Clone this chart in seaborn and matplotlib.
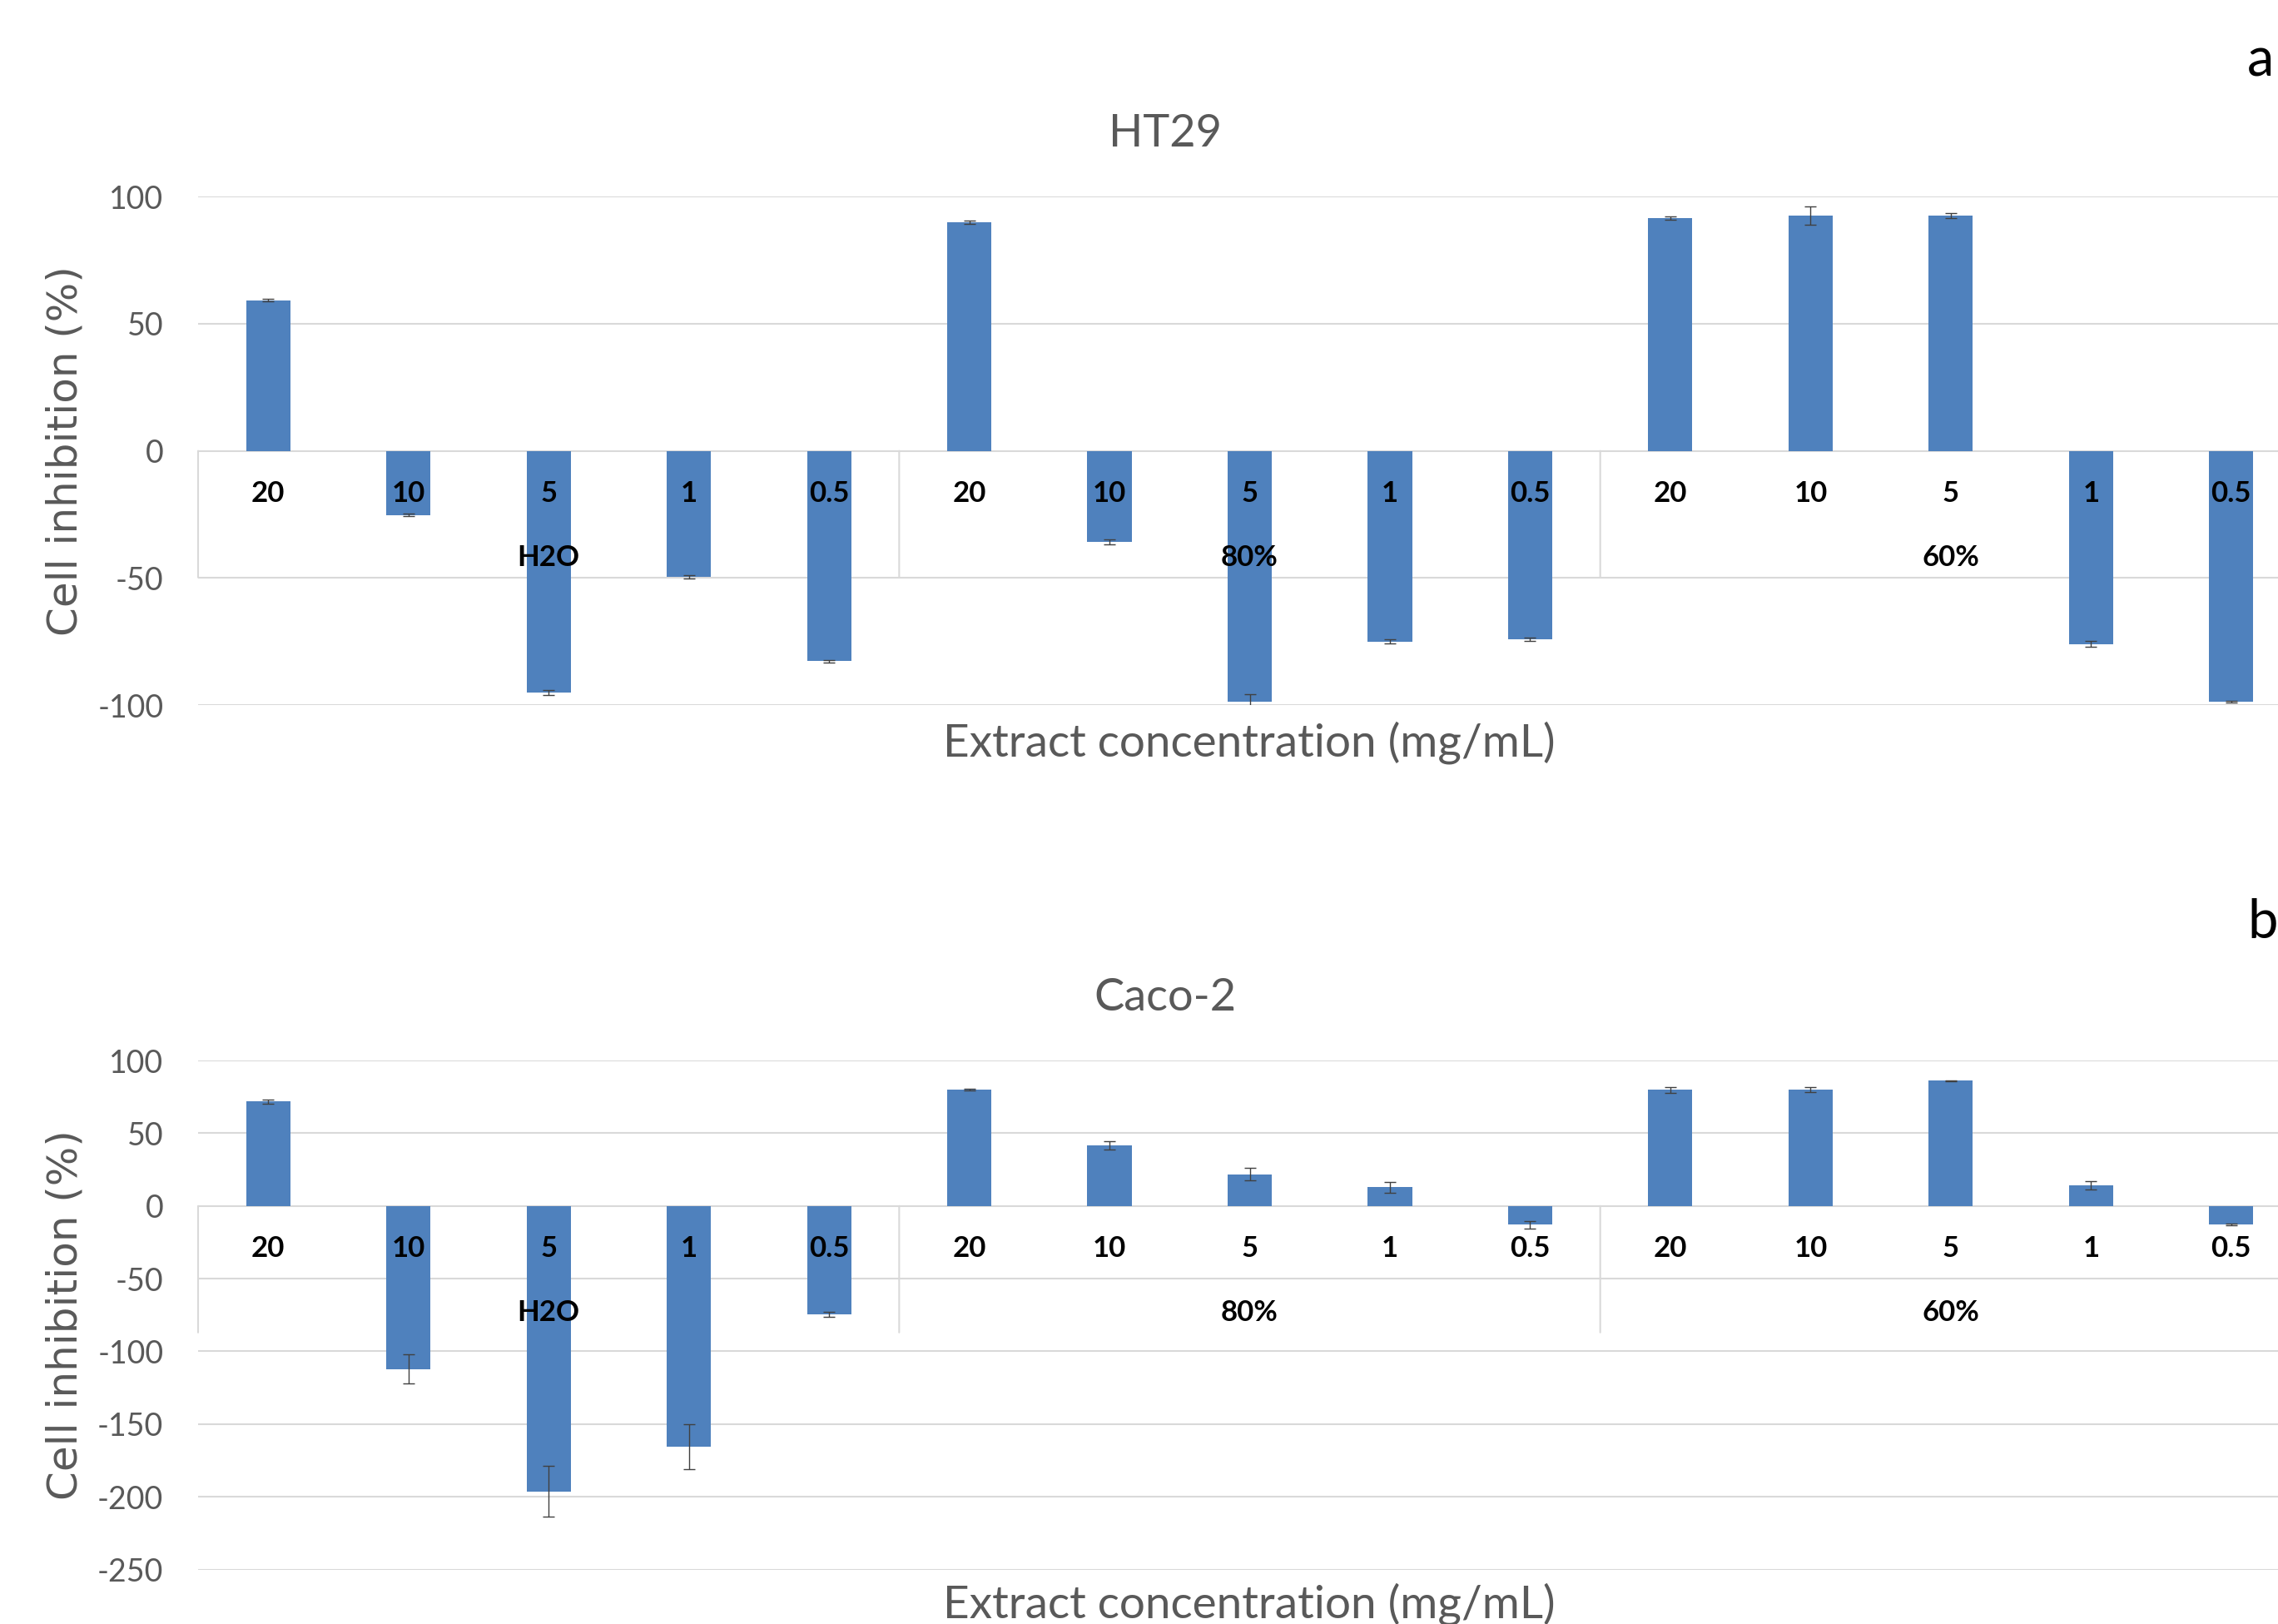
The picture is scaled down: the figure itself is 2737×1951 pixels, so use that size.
import numpy as np
import pandas as pd
import matplotlib
matplotlib.use("Agg")
import matplotlib.pyplot as plt
import seaborn as sns

# data
groups = ['H2O', '80%', '60%']
concs = ['20', '10', '5', '1', '0.5']

ht29_vals = [59.3, -25.2, -95.0, -49.6, -82.7,
             89.9, -35.7, -98.6, -75.0, -74.2,
             91.5, 92.5, 92.5, -76.0, -98.6]
ht29_err = [0.4, 0.5, 1.0, 0.6, 0.5,
            0.7, 1.0, 3.0, 0.8, 0.6,
            0.6, 3.6, 1.0, 1.1, 0.4]

caco_vals = [71.9, -112.2, -196.2, -165.6, -74.3,
             79.9, 41.7, 21.9, 12.8, -12.8,
             79.9, 79.9, 86.1, 14.2, -12.8]
caco_err = [1.5, 10.0, 17.2, 15.6, 1.7,
            0.5, 3.0, 4.3, 3.6, 2.6,
            2.0, 1.7, 0.5, 2.6, 0.5]

sns.set_theme(style="white")
plt.rcParams['font.family'] = ['Lato', 'DejaVu Sans']

W, H = 2737, 1951
fig = plt.figure(figsize=(W / 100, H / 100), dpi=100)

bar_col = '#4F81BD'
grid_col = '#D9D9D9'
txt_gray = '#595959'

keys = [g + '_' + c for g in groups for c in concs]
conc_lab = [c for g in groups for c in concs]


def panel(rect, vals, errs, ylim, ticks, title, title_y, xlab_y, letter, letter_y):
    ax = fig.add_axes(rect)
    df = pd.DataFrame({'key': keys, 'val': vals})
    sns.barplot(data=df, x='key', y='val', order=keys, color=bar_col,
                width=0.315, linewidth=0, saturation=1, errorbar=None, ax=ax)
    ax.errorbar(np.arange(len(vals)), vals, yerr=errs, fmt='none',
                ecolor='#404040', elinewidth=1.0, capsize=5, capthick=1.0, zorder=4)
    ax.set_xlim(-0.5, len(vals) - 0.5)
    ax.set_ylim(*ylim)
    ax.set_yticks(ticks)
    ax.set_yticklabels([str(t) for t in ticks])
    ax.tick_params(axis='y', length=0, pad=30, labelsize=27, labelcolor=txt_gray)
    ax.set_xticks([])
    ax.set_xlabel('')
    ax.set_ylabel('')
    for s in ax.spines.values():
        s.set_visible(False)
    for t in ticks:
        ax.axhline(t, color=grid_col, lw=1.5, zorder=0)
    ax.set_axisbelow(True)

    # category labels below the zero line
    for i, lab in enumerate(conc_lab):
        ax.annotate(lab, xy=(i, 0), xytext=(0, -51), textcoords='offset pixels',
                    ha='center', va='center', fontsize=25, fontweight='bold',
                    color='black', zorder=6, annotation_clip=False)
    for j, g in enumerate(groups):
        ax.annotate(g, xy=(j * 5 + 2, 0), xytext=(0, -128), textcoords='offset pixels',
                    ha='center', va='center', fontsize=25, fontweight='bold',
                    color='black', zorder=6, annotation_clip=False)
    for xb in [-0.5, 4.5, 9.5, 14.5]:
        ax.annotate('', xy=(xb, 0), xytext=(0, -152), textcoords='offset pixels',
                    arrowprops=dict(arrowstyle='-', color=grid_col, lw=1.5,
                                    shrinkA=0, shrinkB=0),
                    annotation_clip=False)

    fig.text(1400 / W, title_y, title, ha='center', va='baseline',
             fontsize=39, color=txt_gray)
    fig.text(1501 / W, xlab_y, 'Extract concentration (mg/mL)', ha='center',
             va='baseline', fontsize=39.5, color=txt_gray)
    fig.text(78.5 / W, rect[1] + rect[3] / 2, 'Cell inhibition (%)', rotation=90,
             ha='center', va='center', fontsize=36, color=txt_gray,
             family='DejaVu Sans')
    fig.text(2700 / W, letter_y, letter, ha='left', va='baseline',
             fontsize=47, color='black')
    return ax


left = 238 / W
width = (2765 - 238) / W

panel([left, 1 - 847 / H, width, (847 - 236.3) / H],
      ht29_vals, ht29_err, (-100, 100), [-100, -50, 0, 50, 100],
      'HT29', 1 - 176 / H, 1 - 909 / H, 'a', 1 - 91 / H)

panel([left, 1 - 1885.5 / H, width, (1885.5 - 1274.1) / H],
      caco_vals, caco_err, (-250, 100), [-250, -200, -150, -100, -50, 0, 50, 100],
      'Caco-2', 1 - 1213.5 / H, 1 - 1943 / H, 'b', 1 - 1127 / H)

plt.savefig('out.png', dpi=100)
